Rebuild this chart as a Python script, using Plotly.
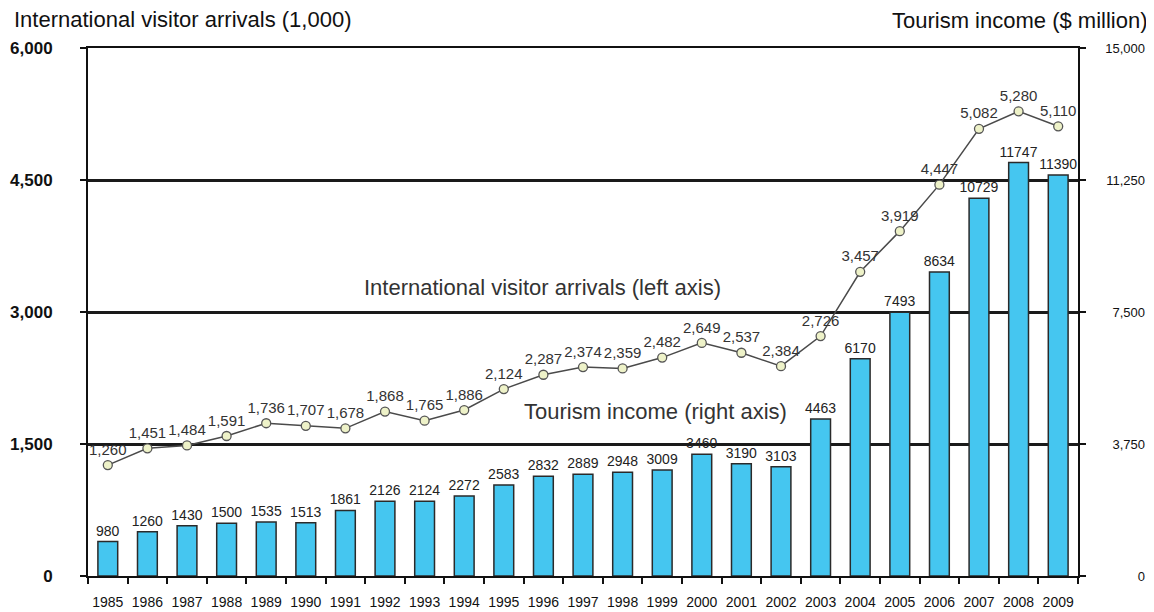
import plotly.graph_objects as go

years = [str(y) for y in range(1985, 2010)]
arrivals = [1260, 1451, 1484, 1591, 1736, 1707, 1678, 1868, 1765, 1886, 2124, 2287,
            2374, 2359, 2482, 2649, 2537, 2384, 2726, 3457, 3919, 4447, 5082, 5280, 5110]
income = [980, 1260, 1430, 1500, 1535, 1513, 1861, 2126, 2124, 2272, 2583, 2832,
          2889, 2948, 3009, 3460, 3190, 3103, 4463, 6170, 7493, 8634, 10729, 11747, 11390]

left_ticks = [0, 1500, 3000, 4500, 6000]
right_ticks = [0, 3750, 7500, 11250, 15000]

FONT = "Arial, Liberation Sans, sans-serif"

fig = go.Figure()
fig.add_trace(go.Bar(
    x=years, y=income, yaxis="y2", width=0.5,
    marker=dict(color="#45c6f0", line=dict(color="#2a2a2a", width=1.5)),
    text=[str(v) for v in income], textposition="outside", cliponaxis=False,
    constraintext="none",
    textfont=dict(family=FONT, size=14, color="#222"),
    showlegend=False,
))
fig.add_trace(go.Scatter(
    x=years, y=arrivals, yaxis="y", mode="lines+markers+text",
    line=dict(color="#4a4a4a", width=1.5),
    marker=dict(symbol="circle", size=9, color="#eef2c8", line=dict(color="#555", width=1.3)),
    text=[f"{v:,}" for v in arrivals], textposition="top center", cliponaxis=False,
    textfont=dict(family=FONT, size=15, color="#333"),
    showlegend=False,
))

fig.update_layout(
    width=1146, height=604,
    margin=dict(l=80, r=0, t=40, b=36),
    paper_bgcolor="white", plot_bgcolor="white",
    font=dict(family=FONT, color="#111"),
    bargap=0.5,
    xaxis=dict(
        domain=[0, 0.9287], type="category", range=[-0.5, len(years) - 0.5],
        showline=True, linecolor="#111", linewidth=2, mirror=True,
        ticks="outside", tickson="boundaries", ticklen=6, tickwidth=2, tickcolor="#111",
        tickangle=0,
        tickfont=dict(family=FONT, size=14, color="#111"),
        ticklabelstandoff=12, showgrid=False,
    ),
    yaxis=dict(
        range=[0, 6000], tickvals=left_ticks, ticktext=[f"{v:,}" for v in left_ticks],
        showline=True, linecolor="#111", linewidth=2, mirror="ticks",
        ticks="outside", ticklen=6, tickwidth=2, tickcolor="#111",
        showgrid=True, gridcolor="#1a1a1a", gridwidth=3,
        zeroline=False,
        tickfont=dict(family=FONT, size=17, color="#111", weight="bold"),
        ticklabelstandoff=24,
    ),
    yaxis2=dict(
        range=[0, 15000], tickvals=right_ticks, ticktext=[f"{v:,}" for v in right_ticks],
        overlaying="y", side="left", anchor="free", position=1.0,
        showline=False, ticks="", showgrid=False, zeroline=False,
        ticklabelstandoff=9,
        tickfont=dict(family=FONT, size=13, color="#111"),
    ),
    annotations=[
        dict(text="International visitor arrivals (1,000)", xref="paper", yref="paper",
             x=-0.0713, y=1.0, xanchor="left", yanchor="middle", yshift=29, showarrow=False,
             font=dict(family=FONT, size=22, color="#111")),
        dict(text="Tourism income ($ million)", xref="paper", yref="paper",
             x=1.0, y=1.0, xanchor="right", yanchor="middle", yshift=28, xshift=-4, showarrow=False,
             font=dict(family=FONT, size=22, color="#111")),
        dict(text="International visitor arrivals (left axis)", xref="paper", yref="paper",
             x=0.4268, y=0.5455, xanchor="center", yanchor="middle", showarrow=False,
             font=dict(family=FONT, size=22, color="#333")),
        dict(text="Tourism income (right axis)", xref="paper", yref="paper",
             x=0.5328, y=0.3125, xanchor="center", yanchor="middle", showarrow=False,
             font=dict(family=FONT, size=22, color="#333")),
    ],
)

fig.write_html("out.html")
